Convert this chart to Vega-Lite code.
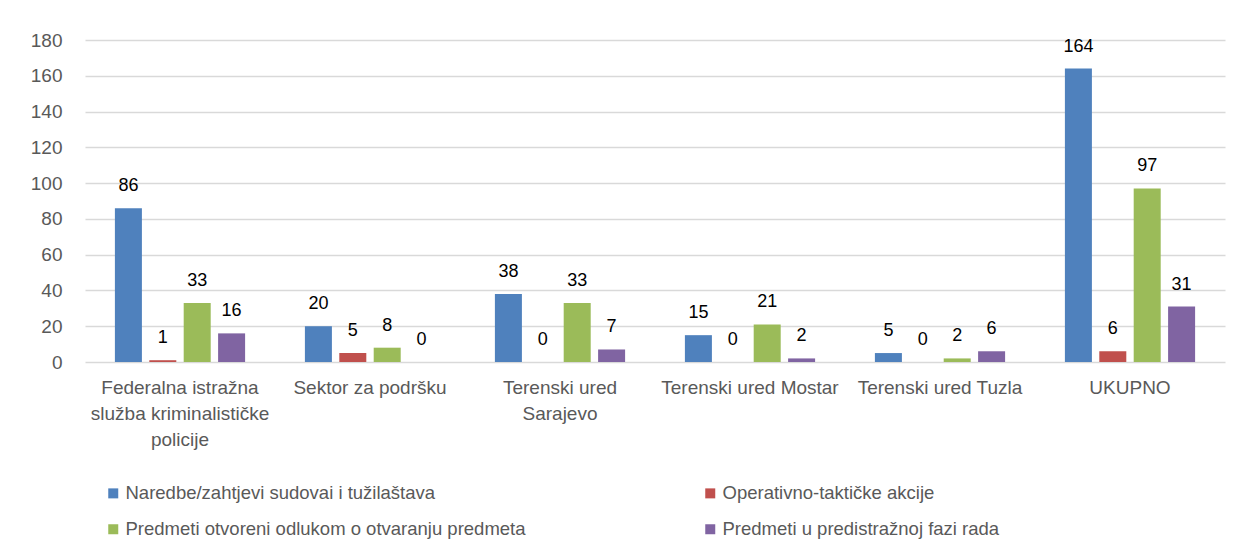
{
  "$schema": "https://vega.github.io/schema/vega-lite/v6.json",
  "width": 1140,
  "height": 322,
  "autosize": "none",
  "padding": {"left": 85, "top": 40, "right": 19, "bottom": 198},
  "background": "white",
  "config": {
    "font": "Liberation Sans",
    "view": {"stroke": null},
    "axis": {"labelFont": "Liberation Sans"},
    "legend": {"labelFont": "Liberation Sans"}
  },
  "data": {
    "values": [
      {"kategorija": "Federalna istražna služba kriminalističke policije", "serija": "Naredbe/zahtjevi sudovai i tužilaštava", "vrijednost": 86},
      {"kategorija": "Federalna istražna služba kriminalističke policije", "serija": "Operativno-taktičke akcije", "vrijednost": 1},
      {"kategorija": "Federalna istražna služba kriminalističke policije", "serija": "Predmeti otvoreni odlukom o otvaranju predmeta", "vrijednost": 33},
      {"kategorija": "Federalna istražna služba kriminalističke policije", "serija": "Predmeti u predistražnoj fazi rada", "vrijednost": 16},
      {"kategorija": "Sektor za podršku", "serija": "Naredbe/zahtjevi sudovai i tužilaštava", "vrijednost": 20},
      {"kategorija": "Sektor za podršku", "serija": "Operativno-taktičke akcije", "vrijednost": 5},
      {"kategorija": "Sektor za podršku", "serija": "Predmeti otvoreni odlukom o otvaranju predmeta", "vrijednost": 8},
      {"kategorija": "Sektor za podršku", "serija": "Predmeti u predistražnoj fazi rada", "vrijednost": 0},
      {"kategorija": "Terenski ured Sarajevo", "serija": "Naredbe/zahtjevi sudovai i tužilaštava", "vrijednost": 38},
      {"kategorija": "Terenski ured Sarajevo", "serija": "Operativno-taktičke akcije", "vrijednost": 0},
      {"kategorija": "Terenski ured Sarajevo", "serija": "Predmeti otvoreni odlukom o otvaranju predmeta", "vrijednost": 33},
      {"kategorija": "Terenski ured Sarajevo", "serija": "Predmeti u predistražnoj fazi rada", "vrijednost": 7},
      {"kategorija": "Terenski ured Mostar", "serija": "Naredbe/zahtjevi sudovai i tužilaštava", "vrijednost": 15},
      {"kategorija": "Terenski ured Mostar", "serija": "Operativno-taktičke akcije", "vrijednost": 0},
      {"kategorija": "Terenski ured Mostar", "serija": "Predmeti otvoreni odlukom o otvaranju predmeta", "vrijednost": 21},
      {"kategorija": "Terenski ured Mostar", "serija": "Predmeti u predistražnoj fazi rada", "vrijednost": 2},
      {"kategorija": "Terenski ured Tuzla", "serija": "Naredbe/zahtjevi sudovai i tužilaštava", "vrijednost": 5},
      {"kategorija": "Terenski ured Tuzla", "serija": "Operativno-taktičke akcije", "vrijednost": 0},
      {"kategorija": "Terenski ured Tuzla", "serija": "Predmeti otvoreni odlukom o otvaranju predmeta", "vrijednost": 2},
      {"kategorija": "Terenski ured Tuzla", "serija": "Predmeti u predistražnoj fazi rada", "vrijednost": 6},
      {"kategorija": "UKUPNO", "serija": "Naredbe/zahtjevi sudovai i tužilaštava", "vrijednost": 164},
      {"kategorija": "UKUPNO", "serija": "Operativno-taktičke akcije", "vrijednost": 6},
      {"kategorija": "UKUPNO", "serija": "Predmeti otvoreni odlukom o otvaranju predmeta", "vrijednost": 97},
      {"kategorija": "UKUPNO", "serija": "Predmeti u predistražnoj fazi rada", "vrijednost": 31}
    ]
  },
  "encoding": {
    "x": {
      "field": "kategorija",
      "type": "nominal",
      "sort": null,
      "title": null,
      "scale": {"paddingInner": 0, "paddingOuter": 0},
      "axis": {
        "labelAngle": 0,
        "domain": false,
        "ticks": false,
        "labelFontSize": 19,
        "labelColor": "#595959",
        "labelPadding": 16,
        "labelBaseline": "top",
        "labelLineHeight": 26,
        "labelLimit": 0,
        "labelExpr": "datum.label == 'Federalna istražna služba kriminalističke policije' ? ['Federalna istražna', 'služba kriminalističke', 'policije'] : datum.label == 'Terenski ured Sarajevo' ? ['Terenski ured', 'Sarajevo'] : datum.label"
      }
    },
    "xOffset": {
      "field": "serija",
      "type": "nominal",
      "sort": null,
      "scale": {"paddingInner": 0.215, "paddingOuter": 0.869}
    },
    "y": {
      "field": "vrijednost",
      "type": "quantitative",
      "title": null,
      "scale": {"domain": [0, 180], "nice": false},
      "axis": {
        "values": [0, 20, 40, 60, 80, 100, 120, 140, 160, 180],
        "domain": false,
        "ticks": false,
        "labelFontSize": 19,
        "labelColor": "#595959",
        "labelPadding": 23,
        "gridColor": "#d9d9d9",
        "gridWidth": 1.3
      }
    }
  },
  "layer": [
    {
      "mark": {"type": "bar"},
      "encoding": {
        "color": {
          "field": "serija",
          "type": "nominal",
          "scale": {
            "domain": ["Naredbe/zahtjevi sudovai i tužilaštava", "Operativno-taktičke akcije", "Predmeti otvoreni odlukom o otvaranju predmeta", "Predmeti u predistražnoj fazi rada"],
            "range": ["#4F81BD", "#C0504D", "#9BBB59", "#8064A2"]
          },
          "legend": {
            "title": null,
            "orient": "none",
            "legendX": 19,
            "legendY": 444,
            "columns": 2,
            "direction": "horizontal",
            "symbolType": "square",
            "symbolSize": 100,
            "symbolStrokeWidth": 0,
            "labelFontSize": 18.5,
            "labelColor": "#595959",
            "labelOffset": 3,
            "labelLimit": 0,
            "columnPadding": 175,
            "rowPadding": 17,
            "padding": 0
          }
        }
      }
    },
    {
      "mark": {"type": "text", "baseline": "alphabetic", "dy": -17, "fontSize": 18, "color": "#000000"},
      "encoding": {
        "text": {"field": "vrijednost", "type": "quantitative"}
      }
    }
  ]
}
